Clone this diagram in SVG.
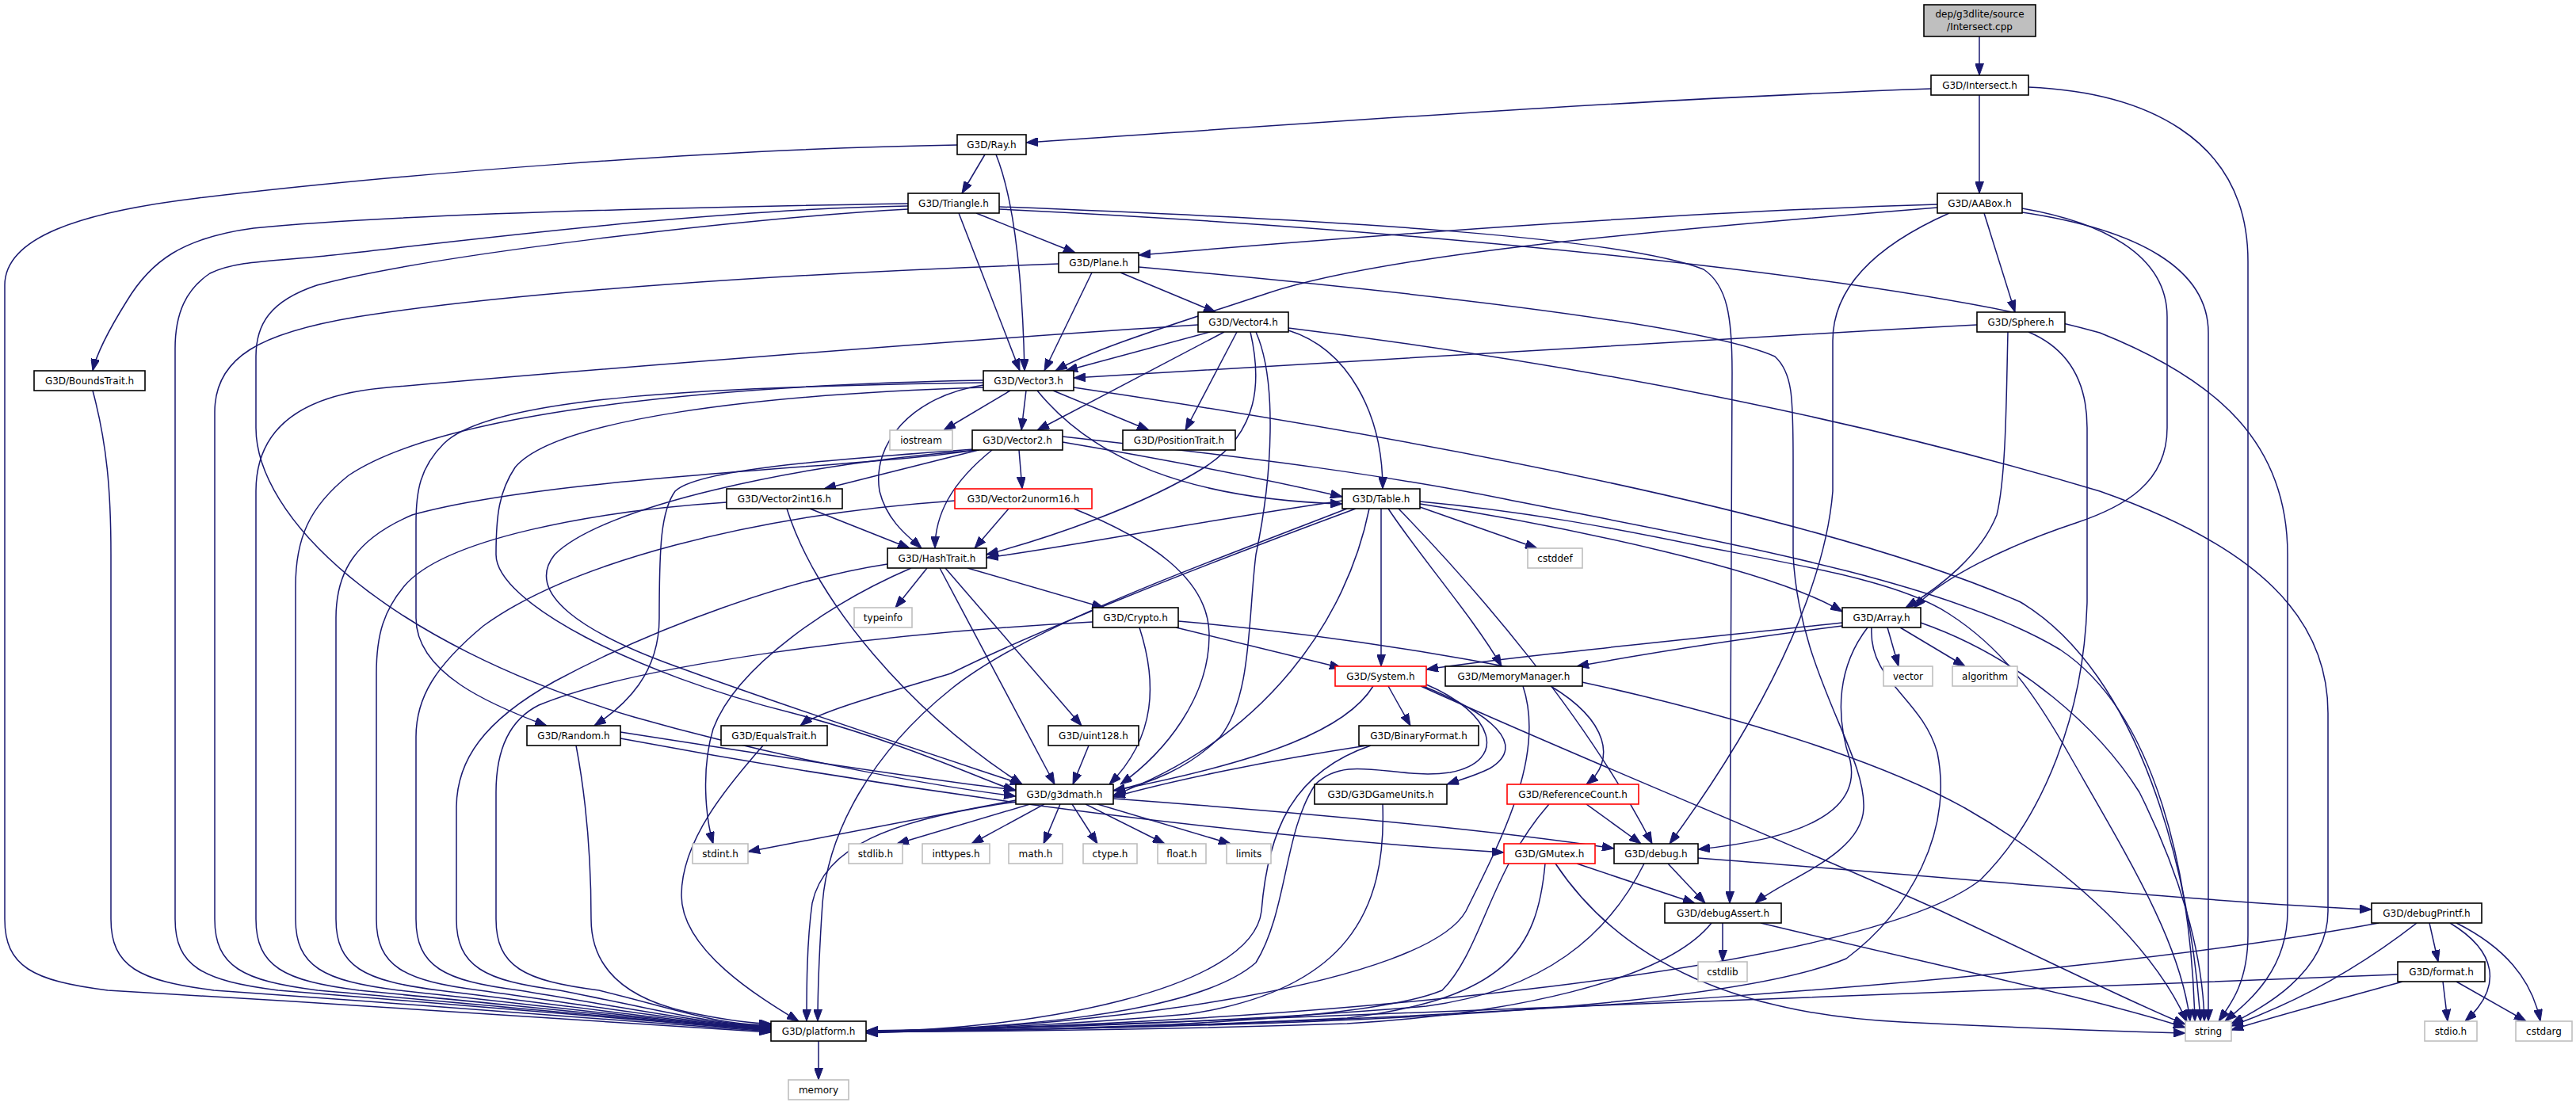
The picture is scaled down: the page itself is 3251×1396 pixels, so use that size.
<svg xmlns="http://www.w3.org/2000/svg" width="3251" height="1396" viewBox="0 0 3251 1396">
<style>
.n rect{fill:#fff;stroke:#000;stroke-width:1.6}
.g rect{fill:#fff;stroke:#bfbfbf;stroke-width:1.6}
.r rect{fill:#fff;stroke:#f00;stroke-width:1.6}
.root rect{fill:#bfbfbf;stroke:#000;stroke-width:1.6}
text{font-family:"DejaVu Sans","Liberation Sans",sans-serif;font-size:12px;text-anchor:middle;fill:#000}
#edges path{fill:none;stroke:#191970;stroke-width:1.5;marker-end:url(#a)}
</style>
<defs>
<marker id="a" markerWidth="15" markerHeight="11" refX="15" refY="5.5" orient="auto" markerUnits="userSpaceOnUse" viewBox="0 0 15 11"><path d="M0,0 L15,5.5 L0,11 z" fill="#191970" stroke="#191970" stroke-width="1"/></marker>
</defs>
<rect width="3251" height="1396" fill="#fff"/>
<g id="edges">
<path d="M2498,46 L2498,95"/>
<path d="M2437,112 C2050,126 1650,156 1295,180"/>
<path d="M2498,120 L2498,244"/>
<path d="M2560,110 C2700,116 2837,170 2837,330 L2837,1180 C2837,1240 2815,1268 2800,1289"/>
<path d="M1243,195 L1214,244"/>
<path d="M1257,195 C1277,245 1290,330 1293,468"/>
<path d="M1208,183 C900,188 500,220 250,250 C100,268 6,300 6,360 L6,1160 C6,1220 41,1238 136,1250 C471,1270 913,1297 973,1303"/>
<path d="M1146,257 C900,261 500,270 320,288 C230,300 190,330 160,380 C135,420 121,450 117,468"/>
<path d="M1146,260 C900,264 600,302 420,322 C350,330 300,328 265,345 C235,365 221,395 221,440 L221,1160 C221,1220 256,1238 351,1250 C600,1270 913,1297 973,1301"/>
<path d="M1146,264 C950,275 550,320 400,360 C340,380 323,410 323,450 L323,540 C323,650 480,810 800,905 C1000,962 1200,995 1282,1005"/>
<path d="M1210,269 L1287,468"/>
<path d="M1232,269 L1357,319"/>
<path d="M1261,261 C1700,278 2050,300 2150,340 C2180,360 2186,400 2186,470 L2183,1140"/>
<path d="M1261,264 C1800,290 2400,350 2650,420 C2800,480 2887,560 2887,700 L2887,1150 C2887,1230 2830,1270 2808,1289"/>
<path d="M2445,258 C2100,268 1700,300 1437,322"/>
<path d="M2445,262 C2100,290 1750,320 1600,370 C1480,410 1380,440 1332,468"/>
<path d="M2504,269 L2543,394"/>
<path d="M2460,269 C2390,300 2313,350 2313,430 L2313,620 C2305,720 2250,870 2107,1065"/>
<path d="M2552,263 C2650,280 2735,320 2735,400 L2735,540 C2735,610 2680,640 2620,660 C2530,690 2450,730 2416,767"/>
<path d="M2552,268 C2700,290 2787,340 2787,420 L2787,1289"/>
<path d="M1378,344 L1318,468"/>
<path d="M1414,344 L1534,394"/>
<path d="M1437,337 C1800,370 2150,410 2240,450 C2262,470 2263,500 2263,580 L2263,700 C2270,850 2355,950 2352,1020 C2350,1080 2250,1110 2215,1140"/>
<path d="M1336,333 C1000,345 650,368 450,400 C330,420 271,450 271,520 L271,1160 C271,1220 306,1238 401,1250 C630,1270 913,1297 973,1300"/>
<path d="M1527,419 L1345,468"/>
<path d="M1545,419 L1309,543"/>
<path d="M1561,419 L1496,543"/>
<path d="M1578,419 C1592,480 1590,545 1520,590 C1440,640 1320,680 1245,700"/>
<path d="M1585,419 C1612,480 1606,600 1585,700 C1575,780 1580,880 1540,930 C1500,970 1450,990 1405,998"/>
<path d="M1626,417 C1700,440 1745,520 1745,617"/>
<path d="M1626,414 C2000,460 2350,530 2650,620 C2850,690 2938,780 2938,900 L2938,1150 C2938,1230 2850,1275 2816,1292"/>
<path d="M1512,410 C1200,430 700,470 480,490 C380,500 323,540 323,620 L323,1160 C323,1220 358,1238 453,1250 C660,1270 913,1297 973,1299"/>
<path d="M2495,410 C2100,430 1700,460 1355,477"/>
<path d="M2534,419 C2532,500 2532,600 2520,650 C2500,700 2450,740 2405,767"/>
<path d="M2560,419 C2610,440 2634,480 2634,540 L2634,760 C2630,900 2580,1030 2500,1110 C2350,1230 1600,1295 1093,1301"/>
<path d="M117,493 C135,560 140,620 140,700 L140,1160 C140,1220 175,1238 270,1250 C550,1270 913,1297 973,1302"/>
<path d="M1275,493 L1191,543"/>
<path d="M1295,493 L1289,543"/>
<path d="M1329,493 L1450,543"/>
<path d="M1309,493 C1380,580 1500,630 1694,636"/>
<path d="M1241,486 C1150,500 1100,560 1110,620 C1120,660 1150,680 1163,692"/>
<path d="M1355,489 C1800,555 2300,650 2550,760 C2700,850 2765,1100 2777,1289"/>
<path d="M1241,480 C900,486 560,520 440,600 C390,640 373,680 373,740 L373,1160 C373,1220 408,1238 503,1250 C690,1270 913,1297 973,1298"/>
<path d="M1241,483 C900,488 620,500 560,560 C530,590 525,620 525,660 L525,780 C525,850 620,890 690,916"/>
<path d="M1241,489 C950,498 700,530 650,590 C630,620 626,650 626,700 C626,760 800,850 1000,900 C1150,940 1240,985 1282,998"/>
<path d="M1341,558 C1500,585 1620,610 1694,627"/>
<path d="M1341,551 C1600,580 1750,600 1900,630 C2150,680 2450,730 2600,820 C2720,900 2765,1100 2770,1289"/>
<path d="M1235,568 L1040,617"/>
<path d="M1286,568 L1290,617"/>
<path d="M1252,568 C1200,610 1180,650 1180,692"/>
<path d="M1229,567 C1050,580 880,592 852,620 C834,645 832,690 832,780 C832,850 790,890 750,916"/>
<path d="M1236,568 C1000,586 760,640 700,700 C660,750 740,800 850,840 C1000,895 1200,960 1290,990"/>
<path d="M1230,568 C1100,590 700,600 520,650 C450,680 424,720 424,780 L424,1160 C424,1220 459,1238 554,1250 C720,1270 913,1297 973,1297"/>
<path d="M1022,642 L1148,692"/>
<path d="M993,642 C1030,760 1150,900 1290,990"/>
<path d="M917,634 C750,645 560,680 510,740 C485,770 475,800 475,850 L475,1160 C475,1220 510,1238 605,1250 C750,1270 913,1297 973,1296"/>
<path d="M1273,642 L1230,692"/>
<path d="M1355,642 C1450,680 1525,730 1526,800 C1527,880 1470,950 1414,990"/>
<path d="M1205,632 C950,650 720,710 610,790 C550,840 525,880 525,930 L525,1160 C525,1220 560,1238 655,1250 C780,1270 913,1297 973,1295"/>
<path d="M1694,632 C1500,660 1350,690 1245,704"/>
<path d="M1792,640 L1940,692"/>
<path d="M1743,642 L1743,841"/>
<path d="M1752,642 C1790,700 1860,780 1895,841"/>
<path d="M1765,642 C1860,740 2000,900 2085,1065"/>
<path d="M1792,636 C1900,652 2000,672 2100,696 C2200,720 2280,745 2325,772"/>
<path d="M1792,633 C1920,645 2030,665 2150,690 C2280,715 2400,735 2460,775 C2530,820 2570,880 2610,950 C2690,1090 2752,1190 2764,1289"/>
<path d="M1728,642 C1700,780 1600,930 1405,1004"/>
<path d="M1711,642 C1500,720 1300,800 1200,850 C1100,880 1030,900 1010,916"/>
<path d="M1700,642 C1500,720 1300,790 1200,870 C1100,950 1045,1050 1038,1140 C1034,1200 1032,1250 1032,1289"/>
<path d="M1170,717 L1130,767"/>
<path d="M1221,717 L1393,767"/>
<path d="M1193,717 L1365,916"/>
<path d="M1186,717 L1331,990"/>
<path d="M1150,717 C1050,760 930,840 900,920 C885,970 890,1030 900,1065"/>
<path d="M1120,712 C1000,730 830,790 700,860 C610,910 576,960 576,1020 L576,1160 C576,1220 611,1238 706,1250 C810,1270 913,1297 973,1294"/>
<path d="M1484,792 L1693,843"/>
<path d="M1438,792 C1460,860 1460,930 1400,990"/>
<path d="M1379,785 C1100,800 800,840 680,890 C640,910 626,950 626,1000 L626,1160 C626,1220 661,1238 756,1250 C840,1270 913,1297 973,1293"/>
<path d="M1487,784 C1900,820 2300,920 2480,1020 C2620,1100 2720,1200 2760,1290"/>
<path d="M2325,786 C2100,810 1900,830 1800,845"/>
<path d="M2325,790 C2150,812 2050,830 1990,841"/>
<path d="M2382,792 L2396,841"/>
<path d="M2398,792 L2480,841"/>
<path d="M2357,792 C2320,840 2315,900 2335,960 C2350,1030 2260,1060 2143,1072"/>
<path d="M2362,792 C2358,860 2425,880 2445,950 C2465,1050 2410,1150 2330,1210 C2150,1285 1500,1298 1093,1302"/>
<path d="M2424,786 C2550,830 2650,920 2700,1000 C2750,1100 2780,1200 2782,1289"/>
<path d="M1752,866 L1780,916"/>
<path d="M1796,866 C1880,900 1930,940 1880,970 C1860,980 1840,985 1826,990"/>
<path d="M1733,866 C1700,920 1600,960 1405,998"/>
<path d="M1800,864 C1885,900 1905,960 1830,975 C1760,985 1700,950 1660,990 C1620,1050 1625,1150 1585,1215 C1500,1290 1200,1300 1093,1302"/>
<path d="M1793,866 C2000,960 2250,1060 2450,1150 C2600,1220 2700,1270 2758,1293"/>
<path d="M1957,866 C2030,910 2040,960 2002,990"/>
<path d="M1922,866 C1950,950 1900,1050 1850,1150 C1800,1240 1400,1298 1093,1302"/>
<path d="M1725,941 C1600,960 1480,985 1405,1006"/>
<path d="M1730,941 C1630,975 1600,1050 1592,1150 C1580,1250 1300,1300 1093,1302"/>
<path d="M1745,1015 C1750,1150 1700,1250 1500,1280 C1300,1298 1150,1300 1093,1302"/>
<path d="M2002,1015 L2071,1065"/>
<path d="M1955,1015 C1880,1100 1870,1200 1820,1250 C1700,1300 1200,1300 1093,1302"/>
<path d="M1990,1090 L2139,1140"/>
<path d="M1950,1090 C1940,1200 1900,1260 1700,1285 C1400,1300 1150,1302 1093,1302"/>
<path d="M1963,1090 C2050,1220 2200,1280 2400,1290 C2600,1300 2720,1303 2758,1304"/>
<path d="M2105,1090 L2152,1140"/>
<path d="M2143,1083 C2500,1110 2800,1140 2993,1148"/>
<path d="M2075,1090 C2030,1180 1950,1250 1800,1270 C1500,1295 1200,1300 1093,1302"/>
<path d="M2174,1165 L2174,1214"/>
<path d="M2160,1165 C2100,1240 1900,1280 1700,1292 C1400,1302 1200,1302 1093,1302"/>
<path d="M2222,1165 C2450,1220 2650,1262 2758,1297"/>
<path d="M3066,1165 L3077,1214"/>
<path d="M3092,1165 C3150,1200 3160,1245 3111,1289"/>
<path d="M3100,1165 C3160,1195 3195,1235 3206,1289"/>
<path d="M3050,1165 C2960,1235 2880,1272 2816,1295"/>
<path d="M3002,1165 C2600,1240 1800,1295 1093,1303"/>
<path d="M3083,1239 L3089,1289"/>
<path d="M3100,1239 L3188,1289"/>
<path d="M3032,1239 C2950,1262 2880,1280 2816,1300"/>
<path d="M3026,1230 C2600,1242 1800,1280 1093,1304"/>
<path d="M1282,1010 L944,1075"/>
<path d="M1300,1015 L1132,1065"/>
<path d="M1318,1015 L1226,1065"/>
<path d="M1338,1015 L1317,1065"/>
<path d="M1353,1015 L1385,1065"/>
<path d="M1370,1015 L1470,1065"/>
<path d="M1385,1015 L1553,1065"/>
<path d="M1405,1008 C1700,1030 1900,1050 2037,1071"/>
<path d="M1282,1012 C1120,1035 1040,1070 1025,1140 C1018,1190 1018,1250 1018,1289"/>
<path d="M783,924 C1000,958 1200,988 1282,997"/>
<path d="M783,932 C1200,1010 1600,1058 1898,1076"/>
<path d="M727,941 C742,1020 746,1100 746,1160 C746,1230 800,1265 880,1280 C920,1288 950,1292 973,1292"/>
<path d="M963,941 C920,990 860,1060 860,1130 C860,1200 960,1260 1008,1289"/>
<path d="M1374,941 L1354,990"/>
<path d="M1033,1314 L1033,1363"/>
</g>
<g id="n_root" class="root"><rect x="2428" y="6" width="141" height="40"/><text x="2498.5" y="22">dep/g3dlite/source</text><text x="2498.5" y="38">/Intersect.cpp</text></g>
<g id="n_intersect" class="n"><rect x="2437" y="95" width="123" height="25"/><text x="2498.5" y="112">G3D/Intersect.h</text></g>
<g id="n_ray" class="n"><rect x="1208" y="170" width="87" height="25"/><text x="1251.5" y="187">G3D/Ray.h</text></g>
<g id="n_triangle" class="n"><rect x="1146" y="244" width="115" height="25"/><text x="1203.5" y="261">G3D/Triangle.h</text></g>
<g id="n_aabox" class="n"><rect x="2445" y="244" width="107" height="25"/><text x="2498.5" y="261">G3D/AABox.h</text></g>
<g id="n_plane" class="n"><rect x="1336" y="319" width="101" height="25"/><text x="1386.5" y="336">G3D/Plane.h</text></g>
<g id="n_vector4" class="n"><rect x="1512" y="394" width="114" height="25"/><text x="1569" y="411">G3D/Vector4.h</text></g>
<g id="n_sphere" class="n"><rect x="2495" y="394" width="111" height="25"/><text x="2550.5" y="411">G3D/Sphere.h</text></g>
<g id="n_boundstrait" class="n"><rect x="43" y="468" width="140" height="25"/><text x="113" y="485">G3D/BoundsTrait.h</text></g>
<g id="n_vector3" class="n"><rect x="1241" y="468" width="114" height="25"/><text x="1298" y="485">G3D/Vector3.h</text></g>
<g id="n_iostream" class="g"><rect x="1123" y="543" width="79" height="25"/><text x="1162.5" y="560">iostream</text></g>
<g id="n_vector2" class="n"><rect x="1227" y="543" width="114" height="25"/><text x="1284" y="560">G3D/Vector2.h</text></g>
<g id="n_positiontrait" class="n"><rect x="1417" y="543" width="142" height="25"/><text x="1488" y="560">G3D/PositionTrait.h</text></g>
<g id="n_vector2int16" class="n"><rect x="917" y="617" width="146" height="25"/><text x="990" y="634">G3D/Vector2int16.h</text></g>
<g id="n_vector2unorm16" class="r"><rect x="1205" y="617" width="173" height="25"/><text x="1291.5" y="634">G3D/Vector2unorm16.h</text></g>
<g id="n_table" class="n"><rect x="1694" y="617" width="98" height="25"/><text x="1743" y="634">G3D/Table.h</text></g>
<g id="n_hashtrait" class="n"><rect x="1120" y="692" width="125" height="25"/><text x="1182.5" y="709">G3D/HashTrait.h</text></g>
<g id="n_cstddef" class="g"><rect x="1928" y="692" width="69" height="25"/><text x="1962.5" y="709">cstddef</text></g>
<g id="n_typeinfo" class="g"><rect x="1078" y="767" width="73" height="25"/><text x="1114.5" y="784">typeinfo</text></g>
<g id="n_crypto" class="n"><rect x="1379" y="767" width="108" height="25"/><text x="1433" y="784">G3D/Crypto.h</text></g>
<g id="n_array" class="n"><rect x="2325" y="767" width="99" height="25"/><text x="2374.5" y="784">G3D/Array.h</text></g>
<g id="n_system" class="r"><rect x="1685" y="841" width="115" height="25"/><text x="1742.5" y="858">G3D/System.h</text></g>
<g id="n_memorymanager" class="n"><rect x="1824" y="841" width="173" height="25"/><text x="1910.5" y="858">G3D/MemoryManager.h</text></g>
<g id="n_vector" class="g"><rect x="2377" y="841" width="62" height="25"/><text x="2408" y="858">vector</text></g>
<g id="n_algorithm" class="g"><rect x="2464" y="841" width="82" height="25"/><text x="2505" y="858">algorithm</text></g>
<g id="n_random" class="n"><rect x="665" y="916" width="118" height="25"/><text x="724" y="933">G3D/Random.h</text></g>
<g id="n_equalstrait" class="n"><rect x="910" y="916" width="134" height="25"/><text x="977" y="933">G3D/EqualsTrait.h</text></g>
<g id="n_uint128" class="n"><rect x="1323" y="916" width="114" height="25"/><text x="1380" y="933">G3D/uint128.h</text></g>
<g id="n_binaryformat" class="n"><rect x="1715" y="916" width="151" height="25"/><text x="1790.5" y="933">G3D/BinaryFormat.h</text></g>
<g id="n_g3dmath" class="n"><rect x="1282" y="990" width="123" height="25"/><text x="1343.5" y="1007">G3D/g3dmath.h</text></g>
<g id="n_g3dgameunits" class="n"><rect x="1659" y="990" width="167" height="25"/><text x="1742.5" y="1007">G3D/G3DGameUnits.h</text></g>
<g id="n_referencecount" class="r"><rect x="1902" y="990" width="166" height="25"/><text x="1985" y="1007">G3D/ReferenceCount.h</text></g>
<g id="n_stdint" class="g"><rect x="874" y="1065" width="70" height="25"/><text x="909" y="1082">stdint.h</text></g>
<g id="n_stdlib" class="g"><rect x="1071" y="1065" width="68" height="25"/><text x="1105" y="1082">stdlib.h</text></g>
<g id="n_inttypes" class="g"><rect x="1164" y="1065" width="85" height="25"/><text x="1206.5" y="1082">inttypes.h</text></g>
<g id="n_math" class="g"><rect x="1273" y="1065" width="68" height="25"/><text x="1307" y="1082">math.h</text></g>
<g id="n_ctype" class="g"><rect x="1367" y="1065" width="68" height="25"/><text x="1401" y="1082">ctype.h</text></g>
<g id="n_float" class="g"><rect x="1461" y="1065" width="61" height="25"/><text x="1491.5" y="1082">float.h</text></g>
<g id="n_limits" class="g"><rect x="1548" y="1065" width="56" height="25"/><text x="1576" y="1082">limits</text></g>
<g id="n_gmutex" class="r"><rect x="1898" y="1065" width="115" height="25"/><text x="1955.5" y="1082">G3D/GMutex.h</text></g>
<g id="n_debug" class="n"><rect x="2037" y="1065" width="106" height="25"/><text x="2090" y="1082">G3D/debug.h</text></g>
<g id="n_debugassert" class="n"><rect x="2101" y="1140" width="147" height="25"/><text x="2174.5" y="1157">G3D/debugAssert.h</text></g>
<g id="n_debugprintf" class="n"><rect x="2993" y="1140" width="139" height="25"/><text x="3062.5" y="1157">G3D/debugPrintf.h</text></g>
<g id="n_cstdlib" class="g"><rect x="2143" y="1214" width="62" height="25"/><text x="2174" y="1231">cstdlib</text></g>
<g id="n_format" class="n"><rect x="3026" y="1214" width="110" height="25"/><text x="3081" y="1231">G3D/format.h</text></g>
<g id="n_platform" class="n"><rect x="973" y="1289" width="120" height="25"/><text x="1033" y="1306">G3D/platform.h</text></g>
<g id="n_string" class="g"><rect x="2758" y="1289" width="58" height="25"/><text x="2787" y="1306">string</text></g>
<g id="n_stdio" class="g"><rect x="3060" y="1289" width="66" height="25"/><text x="3093" y="1306">stdio.h</text></g>
<g id="n_cstdarg" class="g"><rect x="3175" y="1289" width="71" height="25"/><text x="3210.5" y="1306">cstdarg</text></g>
<g id="n_memory" class="g"><rect x="995" y="1363" width="76" height="25"/><text x="1033" y="1380">memory</text></g>
</svg>
